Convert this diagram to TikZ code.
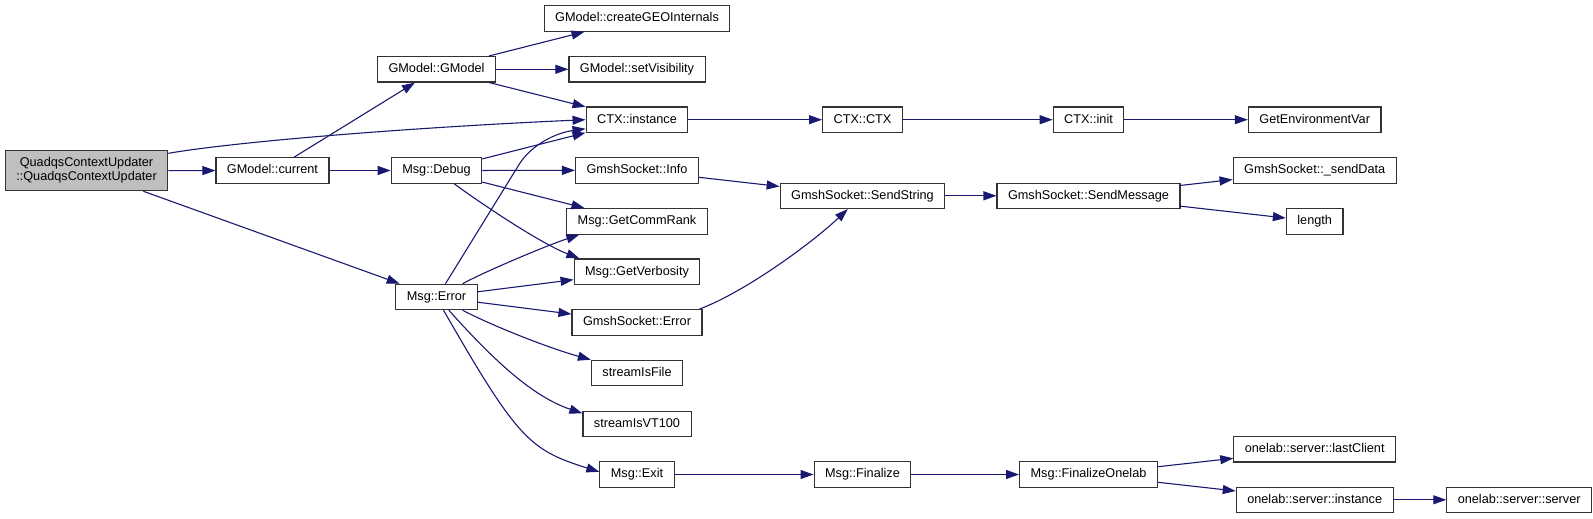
\documentclass[tikz,border=0pt]{standalone}
\usepackage{fontspec}
\setmainfont{Liberation Sans}
\usetikzlibrary{arrows.meta}
\definecolor{edgeblue}{HTML}{191970}
\tikzset{
  fn/.style={draw=black!80, line width=1.1pt, fill=white, inner xsep=11pt, inner ysep=0pt,
    minimum height=25.5pt, text height=9.4pt, text depth=2.7pt, font=\fontsize{12.7}{14}\selectfont},
  call/.style={edgeblue, line width=1.1pt, -{Triangle[length=13pt,width=9pt]}},
}
\begin{document}
\begin{tikzpicture}[x=1pt,y=-1pt]
\useasboundingbox (0,0) rectangle (1593,519);
\node[fn,fill=black!25,align=center,text height={},text depth={},minimum height=40pt] (quadqs) at (86.5,170.7) {QuadqsContextUpdater\\::QuadqsContextUpdater};
\node[fn] (cur) at (272.5,170.5) {GModel::current};
\node[fn] (gmodel) at (436.5,69.3) {GModel::GModel};
\node[fn] (dbg) at (436.5,170.5) {Msg::Debug};
\node[fn] (err) at (436.5,297) {Msg::Error};
\node[fn] (geo) at (637,18.5) {GModel::createGEOInternals};
\node[fn] (vis) at (637,69.3) {GModel::setVisibility};
\node[fn] (ctxinst) at (637,119.7) {CTX::instance};
\node[fn] (info) at (637,170.3) {GmshSocket::Info};
\node[fn] (gcr) at (637,221.3) {Msg::GetCommRank};
\node[fn] (gvb) at (637,271.7) {Msg::GetVerbosity};
\node[fn] (gse) at (637,322.3) {GmshSocket::Error};
\node[fn] (sif) at (637,373) {streamIsFile};
\node[fn] (vt) at (637,424) {streamIsVT100};
\node[fn] (exit) at (637,474.5) {Msg::Exit};
\node[fn] (ctxctx) at (862.5,119.7) {CTX::CTX};
\node[fn] (sstr) at (862.5,195.8) {GmshSocket::SendString};
\node[fn] (fin) at (862.5,474.5) {Msg::Finalize};
\node[fn] (init) at (1088.5,119.7) {CTX::init};
\node[fn] (smsg) at (1088.5,195.8) {GmshSocket::SendMessage};
\node[fn] (fol) at (1088.5,474.5) {Msg::FinalizeOnelab};
\node[fn] (env) at (1314.7,119.7) {GetEnvironmentVar};
\node[fn] (sdata) at (1314.7,170.3) {GmshSocket::\_sendData};
\node[fn] (len) at (1314.7,221.3) {length};
\node[fn] (last) at (1314.7,449.2) {onelab::server::lastClient};
\node[fn] (srvinst) at (1314.7,499.8) {onelab::server::instance};
\node[fn] (srv) at (1519.2,499.8) {onelab::server::server};
\draw[call] (quadqs) -- (cur);
\draw[call] (quadqs.12) .. controls (240,141) and (420,127) .. (ctxinst.west);
\draw[call] (quadqs) -- (err);
\draw[call] (cur) -- (gmodel);
\draw[call] (cur) -- (dbg);
\draw[call] (gmodel) -- (geo);
\draw[call] (gmodel) -- (vis);
\draw[call] (gmodel) -- (ctxinst);
\draw[call] (dbg) -- (ctxinst);
\draw[call] (dbg) -- (info);
\draw[call] (dbg) -- (gcr);
\draw[call] (dbg.-37) .. controls (486,207) and (542,244) .. (gvb.167);
\draw[call] (err.56) -- (520,163) .. controls (532,145) and (555,133) .. (ctxinst.190);
\draw[call] (err.27) .. controls (480,274) and (540,248) .. (gcr.193);
\draw[call] (err) -- (gvb);
\draw[call] (err) -- (gse);
\draw[call] (err.-27) .. controls (497,328) and (552,349) .. (sif.north west);
\draw[call] (err.-47) .. controls (496,363) and (534,397) .. (vt.169);
\draw[call] (err.-62) .. controls (518,440) and (530,450) .. (exit.176);
\draw[call] (ctxinst) -- (ctxctx);
\draw[call] (ctxctx) -- (init);
\draw[call] (init) -- (env);
\draw[call] (info) -- (sstr);
\draw[call] (gse.12) .. controls (745,292) and (812,243) .. (sstr.222);
\draw[call] (sstr) -- (smsg);
\draw[call] (smsg) -- (sdata);
\draw[call] (smsg) -- (len);
\draw[call] (exit) -- (fin);
\draw[call] (fin) -- (fol);
\draw[call] (fol) -- (last);
\draw[call] (fol) -- (srvinst);
\draw[call] (srvinst) -- (srv);
\end{tikzpicture}
\end{document}
